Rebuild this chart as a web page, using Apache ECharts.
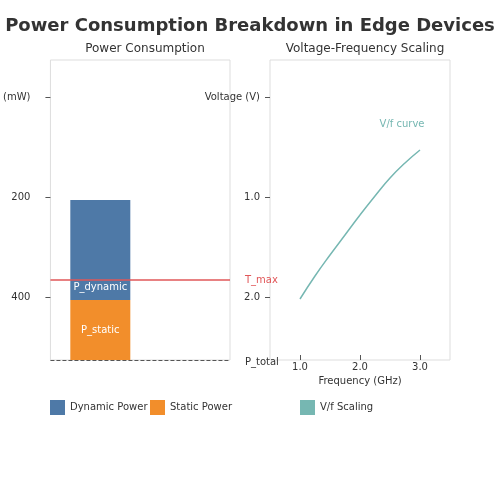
<!DOCTYPE html>
<html>
<head>
<meta charset="utf-8">
<script src="https://cdn.jsdelivr.net/npm/echarts@6/dist/echarts.min.js"></script>
<style>html,body{margin:0;padding:0;background:#fff}#main{width:500px;height:500px}</style>
</head>
<body>
<div id="main"></div>
<script>
// left panel
const slots = ['', '', 'Device', '', '', '', '', '', ''];
const powerTicks = [0, 200, 400];
const staticPower = [null, null, 60];
const dynamicPower = [null, null, 100];
const tMax = 80;
const pTotal = 0;
// right panel
const freqTicks = [1.0, 2.0, 3.0];
const voltTicks = [0, 1.0, 2.0];
const vfCurve = [[1.0, 2.02], [1.25, 1.79], [1.5, 1.58], [1.75, 1.38], [2.0, 1.18], [2.25, 0.99], [2.5, 0.81], [2.75, 0.66], [3.0, 0.53]];

const font = 'DejaVu Sans';
const txt = '#333';
const chart = echarts.init(document.getElementById('main'), null, {renderer: 'canvas'});

chart.setOption({
	animation: false,
	textStyle: {fontFamily: font},
	title: [
		{text: 'Power Consumption Breakdown in Edge Devices', left: 'center', top: 12, textStyle: {fontSize: 18, fontWeight: 'bold', color: txt, fontFamily: font}},
		{text: 'Power Consumption', left: 140, textAlign: 'center', top: 38, textStyle: {fontSize: 12, fontWeight: 'normal', color: txt, fontFamily: font}},
		{text: 'Voltage-Frequency Scaling', left: 360, textAlign: 'center', top: 38, textStyle: {fontSize: 12, fontWeight: 'normal', color: txt, fontFamily: font}}
	],
	legend: [
		{left: 45, top: 395, itemWidth: 15, itemHeight: 15, icon: 'rect', data: ['Dynamic Power'], textStyle: {fontSize: 10, color: txt}},
		{left: 145, top: 395, itemWidth: 15, itemHeight: 15, icon: 'rect', data: ['Static Power'], textStyle: {fontSize: 10, color: txt}},
		{left: 295, top: 395, itemWidth: 15, itemHeight: 15, icon: 'rect', data: ['V/f Scaling'], textStyle: {fontSize: 10, color: txt}}
	],
	grid: [
		{left: 50, top: 60, width: 180, height: 300, show: true, borderColor: '#ddd', borderWidth: 1},
		{left: 270, top: 60, width: 180, height: 300, show: true, borderColor: '#ddd', borderWidth: 1}
	],
	xAxis: [
		{gridIndex: 0, type: 'category', data: slots, show: false},
		{gridIndex: 1, type: 'value', min: 0.5, max: 3.5, position: 'bottom', name: 'Frequency (GHz)', nameLocation: 'middle', nameGap: 12,
			nameTextStyle: {fontSize: 10, color: txt},
			splitLine: {show: false}, axisLine: {show: false, onZero: false},
			axisTick: {show: true, customValues: freqTicks, length: 5, inside: true, lineStyle: {color: '#555'}},
			axisLabel: {customValues: freqTicks, formatter: v => v.toFixed(1), fontSize: 10, color: txt, margin: 2}}
	],
	yAxis: [
		{gridIndex: 0, type: 'value', inverse: true, min: -74, max: 526, splitLine: {show: false}, axisLine: {show: false},
			axisTick: {show: true, customValues: powerTicks, length: 5, lineStyle: {color: '#555'}},
			axisLabel: {customValues: powerTicks, formatter: v => v === 0 ? '(mW)' : String(v), fontSize: 10, color: txt, margin: 20}},
		{gridIndex: 0, type: 'value', min: 0, max: 300, show: false},
		{gridIndex: 1, type: 'value', inverse: true, min: -0.37, max: 2.63, splitLine: {show: false}, axisLine: {show: false},
			axisTick: {show: true, customValues: voltTicks, length: 5, lineStyle: {color: '#555'}},
			axisLabel: {customValues: voltTicks, formatter: v => v === 0 ? 'Voltage (V)' : v.toFixed(1), fontSize: 10, color: txt, margin: 10}}
	],
	series: [
		{name: 'Static Power', type: 'bar', xAxisIndex: 0, yAxisIndex: 1, stack: 'p', barWidth: 60,
			itemStyle: {color: '#f28e2b'}, data: staticPower,
			label: {show: true, position: 'inside', formatter: 'P_static', color: '#fff', fontSize: 10},
			markLine: {symbol: 'none', silent: true, data: [{yAxis: pTotal}],
				lineStyle: {color: '#555', type: 'dashed', width: 1},
				label: {show: true, position: 'end', formatter: 'P_total', color: txt, fontSize: 10, offset: [10, 2]}}},
		{name: 'Dynamic Power', type: 'bar', xAxisIndex: 0, yAxisIndex: 1, stack: 'p', barWidth: 60,
			itemStyle: {color: '#4e79a7'}, data: dynamicPower,
			label: {show: true, position: 'insideBottom', formatter: 'P_dynamic', color: '#fff', fontSize: 10, distance: 8},
			markLine: {symbol: 'none', silent: true, data: [{yAxis: tMax}],
				lineStyle: {color: '#e15759', type: 'solid', width: 1.5},
				label: {show: true, position: 'end', formatter: 'T_max', color: '#e15759', fontSize: 10, offset: [10, 0]}}},
		{name: 'V/f Scaling', type: 'line', xAxisIndex: 1, yAxisIndex: 2, smooth: true, showSymbol: false,
			lineStyle: {color: '#76b7b2', width: 1.5}, itemStyle: {color: '#76b7b2'}, data: vfCurve,
			markPoint: {symbol: 'circle', symbolSize: 0, data: [{coord: [2.7, 0.27]}],
				label: {show: true, formatter: 'V/f curve', color: '#76b7b2', fontSize: 10}}}
	]
});
</script>
</body>
</html>
